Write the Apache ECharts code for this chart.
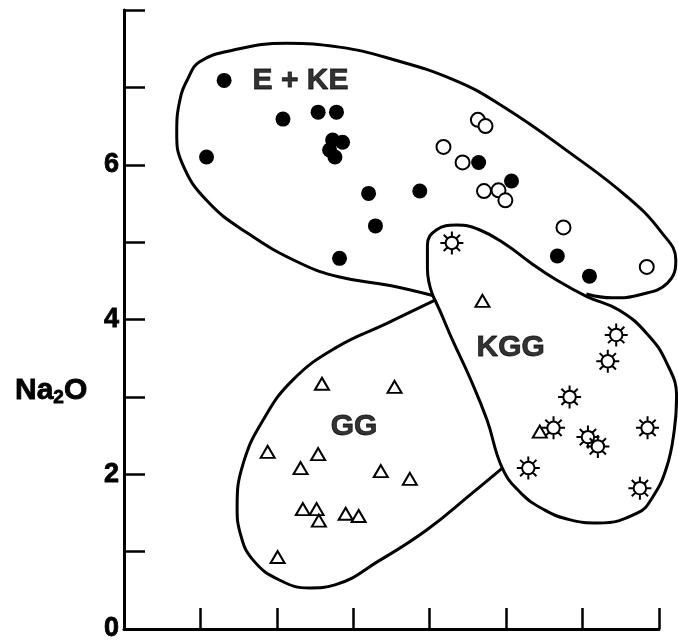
<!DOCTYPE html>
<html>
<head>
<meta charset="utf-8">
<script src="https://cdn.jsdelivr.net/npm/echarts@6.0.0/dist/echarts.min.js"></script>
<style>
  html, body { margin: 0; padding: 0; background: #fff; }
  #chart { width: 678px; height: 642px; }
</style>
</head>
<body>
<div id="chart"></div>
<script>
  // E + KE: filled and open circles
  const eFilled = [
    [1.31, 7.09], [1.08, 6.10], [2.08, 6.59], [2.54, 6.68], [2.78, 6.68],
    [2.73, 6.32], [2.86, 6.29], [2.69, 6.19], [2.76, 6.10], [3.20, 5.63],
    [3.29, 5.21], [3.87, 5.66], [2.82, 4.79], [4.64, 6.03], [5.07, 5.79],
    [5.67, 4.82], [6.09, 4.56]
  ];
  const keOpen = [
    [4.63, 6.58], [4.73, 6.50], [4.18, 6.23], [4.43, 6.03], [4.71, 5.66],
    [4.90, 5.67], [4.99, 5.54], [5.75, 5.19], [6.84, 4.68]
  ];
  // KGG: sun symbols
  const kggSuns = [
    [4.29, 4.99], [6.44, 3.80], [6.33, 3.46], [5.83, 3.00], [5.62, 2.60],
    [6.07, 2.48], [6.20, 2.36], [6.85, 2.60], [5.29, 2.08], [6.75, 1.82]
  ];
  // GG: triangles
  const ggTriangles = [
    [2.59, 3.17], [3.54, 3.13], [1.88, 2.29], [2.54, 2.26], [2.31, 2.08],
    [3.36, 2.04], [3.74, 1.94], [2.34, 1.55], [2.52, 1.55], [2.55, 1.40],
    [2.90, 1.49], [3.07, 1.46], [2.01, 0.93], [4.69, 4.24], [5.44, 2.55]
  ];

  // hand drawn field boundaries
  const eKeOutline = [
    [4.04, 4.31], [3.48, 4.44], [2.82, 4.55], [2.30, 4.73], [1.61, 5.12],
    [1.08, 5.54], [0.76, 6.02], [0.69, 6.41], [0.73, 6.83], [0.84, 7.12],
    [0.99, 7.33], [1.42, 7.48], [2.13, 7.57], [2.82, 7.52], [3.45, 7.38],
    [4.33, 7.09], [4.98, 6.74], [5.84, 6.15], [6.59, 5.58], [7.03, 5.13],
    [7.22, 4.77], [7.11, 4.47], [6.75, 4.32], [6.39, 4.28], [6.05, 4.33]
  ];
  const kggOutline = [
    [4.04, 4.31], [3.97, 4.66], [3.97, 4.96], [4.09, 5.16], [4.35, 5.22],
    [4.65, 5.16], [5.01, 4.96], [5.31, 4.74], [5.66, 4.51], [6.05, 4.30],
    [6.48, 4.12], [6.84, 3.82], [7.10, 3.44], [7.23, 3.00], [7.20, 2.57],
    [7.10, 2.09], [6.92, 1.71], [6.72, 1.50], [6.20, 1.37], [5.84, 1.41],
    [5.50, 1.54], [5.19, 1.76], [4.95, 2.08], [4.75, 2.70], [4.52, 3.26],
    [4.30, 3.73], [4.13, 4.12], [4.04, 4.31]
  ];
  const ggOutline = [
    [4.07, 4.25], [3.44, 3.95], [2.78, 3.64], [2.21, 3.22], [1.82, 2.70],
    [1.56, 2.14], [1.48, 1.58], [1.52, 1.24], [1.69, 0.89], [2.04, 0.63],
    [2.43, 0.53], [2.76, 0.57], [3.35, 0.89], [3.96, 1.28], [4.56, 1.76],
    [4.95, 2.08]
  ];

  const fieldNames = ['E + KE', 'KGG', 'GG'];
  const fieldAnchors = [[2.31, 7.09], [5.06, 3.64], [3.01, 2.61]];
  const yTickLabels = ['0', '', '2', '', '4', '', '6', '', ''];

  const sunPath =
    'path://M18.5,12 A6.5,6.5 0 1,1 5.5,12 A6.5,6.5 0 1,1 18.5,12 Z ' +
    'M12,0 L12,5.5 M12,18.5 L12,24 M0,12 L5.5,12 M18.5,12 L24,12 ' +
    'M3.5,3.5 L7.4,7.4 M16.6,16.6 L20.5,20.5 M3.5,20.5 L7.4,16.6 M16.6,7.4 L20.5,3.5';

  const font = '"Liberation Sans", Arial, sans-serif';
  // heavier strokes on the bold lettering, like the scanned figure
  const inkText = { color: '#000', textBorderColor: '#000', textBorderWidth: 0.8 };

  // plot area: x 0..7 over 535px, outlines run a little past x = 7
  const plotLeft = 124;
  const plotTop = 10;
  const plotW = 535;
  const plotH = 619;
  const xMax = 7;
  const xMaxWide = 7.5;

  const outlineSeries = (data) => ({
    type: 'line',
    xAxisIndex: 1,
    yAxisIndex: 1,
    data: data,
    smooth: 0.45,
    symbol: 'none',
    clip: false,
    silent: true,
    z: 1,
    lineStyle: { color: '#000', width: 3 }
  });

  const chart = echarts.init(document.getElementById('chart'));

  const options = {
    animation: false,
    backgroundColor: '#fff',
    title: {
      text: '{a|Na}{s|2}{a|O}',
      left: 10,
      top: 369,
      textStyle: {
        rich: {
          a: { fontSize: 30, fontWeight: 'bold', fontFamily: font, lineHeight: 34, ...inkText },
          s: { fontSize: 19, fontWeight: 'bold', fontFamily: font, lineHeight: 34, padding: [14, 0, 0, 0], ...inkText }
        }
      }
    },
    grid: [
      { left: plotLeft, top: plotTop, width: plotW, height: plotH, outerBoundsMode: 'none' },
      { left: plotLeft, top: plotTop, width: plotW * xMaxWide / xMax, height: plotH, outerBoundsMode: 'none' }
    ],
    xAxis: [
      {
        type: 'value',
        min: 0,
        max: xMax,
        interval: 1,
        axisLine: { lineStyle: { color: '#000', width: 3 } },
        axisTick: { inside: true, length: 21, lineStyle: { color: '#000', width: 2.5 } },
        axisLabel: { show: false },
        splitLine: { show: false }
      },
      { type: 'value', gridIndex: 1, min: 0, max: xMaxWide, show: false }
    ],
    yAxis: [
      {
        type: 'value',
        min: 0,
        max: 8,
        interval: 1,
        axisLine: { lineStyle: { color: '#000', width: 3 } },
        axisTick: { inside: true, length: 21, lineStyle: { color: '#000', width: 2.5 } },
        axisLabel: {
          margin: 5,
          fontSize: 27,
          fontWeight: 'bold',
          fontFamily: font,
          ...inkText,
          formatter: (v) => yTickLabels[v] || ''
        },
        splitLine: { show: false }
      },
      { type: 'value', gridIndex: 1, min: 0, max: 8, show: false }
    ],
    series: [
      outlineSeries(eKeOutline),
      outlineSeries(kggOutline),
      outlineSeries(ggOutline),
      {
        name: 'E',
        type: 'scatter',
        data: eFilled,
        symbol: 'circle',
        symbolSize: 15,
        z: 3,
        itemStyle: { color: '#000', opacity: 1 }
      },
      {
        name: 'KE',
        type: 'scatter',
        data: keOpen,
        symbol: 'circle',
        symbolSize: 14,
        z: 3,
        itemStyle: { color: '#fff', borderColor: '#000', borderWidth: 2, opacity: 1 }
      },
      {
        name: 'KGG',
        type: 'scatter',
        data: kggSuns,
        symbol: sunPath,
        symbolSize: 23,
        z: 3,
        itemStyle: { color: '#fff', borderColor: '#000', borderWidth: 2, opacity: 1 }
      },
      {
        name: 'GG',
        type: 'scatter',
        data: ggTriangles,
        symbol: 'triangle',
        symbolSize: [14, 12],
        z: 3,
        itemStyle: { color: '#fff', borderColor: '#000', borderWidth: 2, opacity: 1 }
      },
      {
        name: 'fields',
        type: 'scatter',
        silent: true,
        symbolSize: 1,
        z: 4,
        itemStyle: { color: 'rgba(0,0,0,0)' },
        data: fieldNames.map((n, i) => ({ name: n, value: fieldAnchors[i] })),
        label: {
          show: true,
          position: 'inside',
          formatter: (p) => p.name,
          fontSize: 30,
          fontWeight: 'bold',
          fontFamily: font,
          ...inkText
        }
      }
    ]
  };

  chart.setOption(options);
</script>
</body>
</html>
